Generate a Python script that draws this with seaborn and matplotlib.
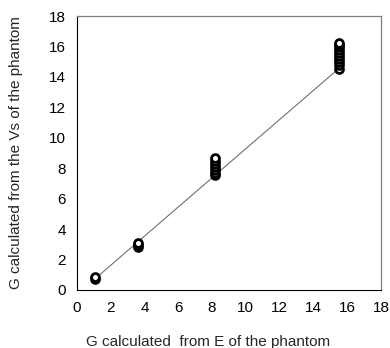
import matplotlib
matplotlib.use("Agg")
import matplotlib.pyplot as plt
import numpy as np
import pandas as pd
import seaborn as sns

# G à partir de E (x) et G à partir de Vs (y), par fantôme
g_from_e = [1.1, 1.1,
            3.6, 3.6, 3.6,
            8.2, 8.2, 8.2, 8.2, 8.2, 8.2, 8.2,
            15.5, 15.5, 15.5, 15.5, 15.5, 15.5, 15.5, 15.5, 15.5, 15.5]
g_from_vs = [0.72, 0.82,
             2.82, 2.95, 3.05,
             7.55, 7.7, 7.9, 8.1, 8.3, 8.5, 8.65,
             14.55, 14.75, 14.95, 15.15, 15.35, 15.55, 15.75, 15.95, 16.1, 16.25]

# droite de tendance
line_x = [1.1, 15.5]
line_y = [0.75, 14.55]

ticks = [0, 2, 4, 6, 8, 10, 12, 14, 16, 18]

df = pd.DataFrame({"E": g_from_e, "Vs": g_from_vs})
df_line = pd.DataFrame({"x": line_x, "y": line_y})

sns.set_style("white")
plt.rcParams["font.family"] = ["Liberation Sans", "DejaVu Sans"]

fig = plt.figure(figsize=(3.9, 3.48), dpi=100)
ax = fig.add_axes([0.197, 0.167, 0.78, 0.787])

sns.lineplot(data=df_line, x="x", y="y", ax=ax, color="#707070", linewidth=0.8)
sns.scatterplot(data=df, x="E", y="Vs", ax=ax, s=32, marker="o",
                facecolor="white", edgecolor="black", linewidth=2.0, zorder=3)

ax.set_xlim(0, 18)
ax.set_ylim(0, 18)
ax.set_xticks(ticks)
ax.set_yticks(ticks)
ax.tick_params(axis="both", direction="out", length=4, width=0.8,
               labelsize=11, colors="black", pad=4)

ax.set_xlabel("G calculated  from E of the phantom", fontsize=11)
ax.set_ylabel("G calculated from the Vs of the phantom", fontsize=11)
ax.xaxis.set_label_coords(0.43, -0.165)
ax.yaxis.set_label_coords(-0.178, 0.5)

for side in ["left", "bottom"]:
    ax.spines[side].set_color("black")
    ax.spines[side].set_linewidth(0.8)
for side in ["top", "right"]:
    ax.spines[side].set_color("#808080")
    ax.spines[side].set_linewidth(0.9)

fig.savefig("out.png", dpi=100)
